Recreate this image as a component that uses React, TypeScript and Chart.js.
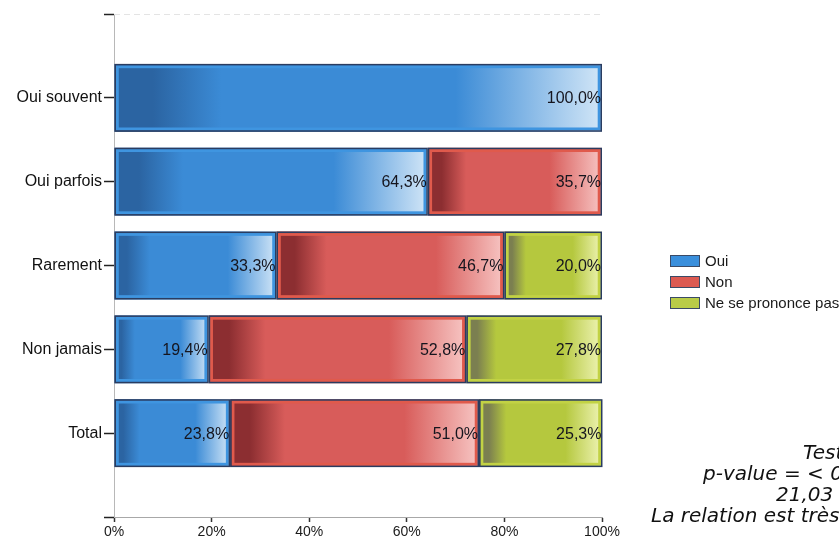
import React, { useEffect, useRef } from "react";
import { Chart, registerables } from "chart.js";

Chart.register(...registerables);

const categories = ["Oui souvent", "Oui parfois", "Rarement", "Non jamais", "Total"];
const ouiValues: (number | null)[] = [100.0, 64.3, 33.3, 19.4, 23.8];
const nonValues: (number | null)[] = [null, 35.7, 46.7, 52.8, 51.0];
const nspValues: (number | null)[] = [null, null, 20.0, 27.8, 25.3];
const seriesNames = ["Oui", "Non", "Ne se prononce pas"];
const xTickValues = [0, 20, 40, 60, 80, 100];
const testLines = ["Test", "p-value = < 0", "21,03", "La relation est très"];

const palettes = [
  { dark: "#2b64a2", mid: "#3b8bd6", light: "#d2e6f7", frame: "#3f95e0", legend: "#3a8fdc" },
  { dark: "#8c2e31", mid: "#d85c5a", light: "#f7c6c4", frame: "#e05a4c", legend: "#dc5a52" },
  { dark: "#7b7f50", mid: "#b5c83e", light: "#eff4b6", frame: "#c2d244", legend: "#b9cc48" },
];
const outerBorder = "#2a3c60";
const FONT = "'Liberation Sans', Arial, sans-serif";

const seriesValues = [ouiValues, nonValues, nspValues];
const pad = (arr: (number | null)[]) => [null, ...arr, null];

function fmt(v: number) {
  return v.toFixed(1).replace(".", ",") + "%";
}

export default function App() {
  const ref = useRef<HTMLCanvasElement | null>(null);

  useEffect(() => {
    if (!ref.current) return;

    const bgColor = (si: number) => (context: any) => {
      const p = palettes[si];
      const chart = context.chart;
      const idx = context.dataIndex;
      if (!chart.chartArea || idx == null || !chart.scales || !chart.scales.x) return p.mid;
      const val = chart.data.datasets[si].data[idx];
      if (val == null) return p.mid;
      let start = 0;
      for (let k = 0; k < si; k++) {
        const v = chart.data.datasets[k].data[idx];
        start += v == null ? 0 : v;
      }
      const xs = chart.scales.x;
      const x0 = xs.getPixelForValue(start);
      const x1 = xs.getPixelForValue(start + val);
      if (!isFinite(x0) || !isFinite(x1) || x1 - x0 < 1) return p.mid;
      const g = chart.ctx.createLinearGradient(x0, 0, x1, 0);
      g.addColorStop(0, p.dark);
      g.addColorStop(0.08, p.dark);
      g.addColorStop(0.22, p.mid);
      g.addColorStop(0.7, p.mid);
      g.addColorStop(1, p.light);
      return g;
    };

    const decorPlugin = {
      id: "decor",
      afterDatasetsDraw(chart: any) {
        const ctx = chart.ctx;
        ctx.save();
        chart.data.datasets.forEach((ds: any, i: number) => {
          const meta = chart.getDatasetMeta(i);
          meta.data.forEach((el: any, j: number) => {
            const v = ds.data[j];
            if (v == null) return;
            const { x, y, base, height } = el.getProps(["x", "y", "base", "height"], true);
            const left = Math.min(x, base);
            const right = Math.max(x, base);
            const top = y - height / 2;
            ctx.strokeStyle = palettes[i].frame;
            ctx.lineWidth = 3;
            ctx.strokeRect(left + 2.8, top + 2.8, right - left - 5.6, height - 5.6);
            ctx.strokeStyle = outerBorder;
            ctx.lineWidth = 1.5;
            ctx.strokeRect(left + 0.75, top + 0.75, right - left - 1.5, height - 1.5);
          });
        });
        ctx.font = `16px ${FONT}`;
        ctx.fillStyle = "#15151e";
        ctx.textAlign = "right";
        ctx.textBaseline = "middle";
        chart.data.datasets.forEach((ds: any, i: number) => {
          const meta = chart.getDatasetMeta(i);
          meta.data.forEach((el: any, j: number) => {
            const v = ds.data[j];
            if (v == null) return;
            const { x, y } = el.getProps(["x", "y"], true);
            ctx.fillText(fmt(v), x - 1, y + 1);
          });
        });
        ctx.restore();
      },
      afterDraw(chart: any) {
        const ctx = chart.ctx;
        const ca = chart.chartArea;
        ctx.save();
        ctx.strokeStyle = "#e4e4e4";
        ctx.lineWidth = 1;
        ctx.setLineDash([6, 4]);
        ctx.beginPath();
        ctx.moveTo(ca.left, ca.top + 0.5);
        ctx.lineTo(ca.right, ca.top + 0.5);
        ctx.stroke();
        ctx.setLineDash([]);

        const lx = 670;
        const ly = [255, 276, 297];
        seriesNames.forEach((name, i) => {
          const p = palettes[i];
          ctx.fillStyle = p.legend;
          ctx.fillRect(lx, ly[i], 30, 12);
          ctx.strokeStyle = "#3a4a66";
          ctx.lineWidth = 1;
          ctx.strokeRect(lx + 0.5, ly[i] + 0.5, 29, 11);
          ctx.fillStyle = "#1a1a1a";
          ctx.font = `15px ${FONT}`;
          ctx.textAlign = "left";
          ctx.textBaseline = "middle";
          ctx.fillText(name, lx + 35, ly[i] + 7);
        });

        ctx.font = `italic 20px 'DejaVu Sans', Verdana, sans-serif`;
        ctx.fillStyle = "#111";
        ctx.textAlign = "left";
        ctx.textBaseline = "middle";
        const tx = [803, 703, 776, 651];
        const ty = [454, 475, 496, 517];
        testLines.forEach((t, i) => ctx.fillText(t, tx[i], ty[i]));
        ctx.restore();
      },
    };

    const chart = new Chart(ref.current, {
      type: "bar",
      data: {
        labels: ["", ...categories, ""],
        datasets: seriesValues.map((vals, i) => ({
          label: seriesNames[i],
          data: pad(vals),
          backgroundColor: bgColor(i),
          borderWidth: 0,
          barPercentage: 0.81,
          categoryPercentage: 1,
        })),
      },
      options: {
        indexAxis: "y",
        responsive: false,
        animation: false,
        layout: { padding: { top: 14, right: 237, left: 0, bottom: 0 } },
        plugins: {
          legend: { display: false },
          tooltip: { enabled: false },
        },
        scales: {
          x: {
            type: "linear",
            stacked: true,
            min: 0,
            max: 100,
            afterBuildTicks: (scale: any) => {
              scale.ticks = xTickValues.map((v) => ({ value: v }));
            },
            afterFit: (scale: any) => {
              scale.height = 27;
            },
            ticks: {
              callback: (v: any) => v + "%",
              color: "#1a1a1a",
              font: { family: FONT, size: 14 },
              padding: 2,
              maxRotation: 0,
            },
            grid: {
              drawOnChartArea: false,
              drawTicks: true,
              tickLength: 5,
              tickColor: "#333",
              tickWidth: 1.5,
            },
            border: { display: true, color: "#a8a8a8", dash: [3, 3], width: 1 },
          },
          y: {
            type: "category",
            stacked: true,
            offset: false,
            afterFit: (scale: any) => {
              scale.width = 114;
            },
            ticks: {
              autoSkip: false,
              color: "#111",
              font: { family: FONT, size: 16 },
              padding: 2,
            },
            grid: {
              offset: false,
              drawOnChartArea: false,
              drawTicks: true,
              tickLength: 10,
              tickColor: "#222",
              tickWidth: 1.5,
            },
            border: { display: true, color: "#b8b8b8", dash: [3, 3], width: 1 },
          },
        },
      },
      plugins: [decorPlugin],
    } as any);

    return () => chart.destroy();
  }, []);

  return (
    <div style={{ position: "absolute", left: 0, top: 0, width: 839, height: 544, background: "#fff" }}>
      <canvas ref={ref} width={839} height={544} style={{ display: "block" }} />
    </div>
  );
}
